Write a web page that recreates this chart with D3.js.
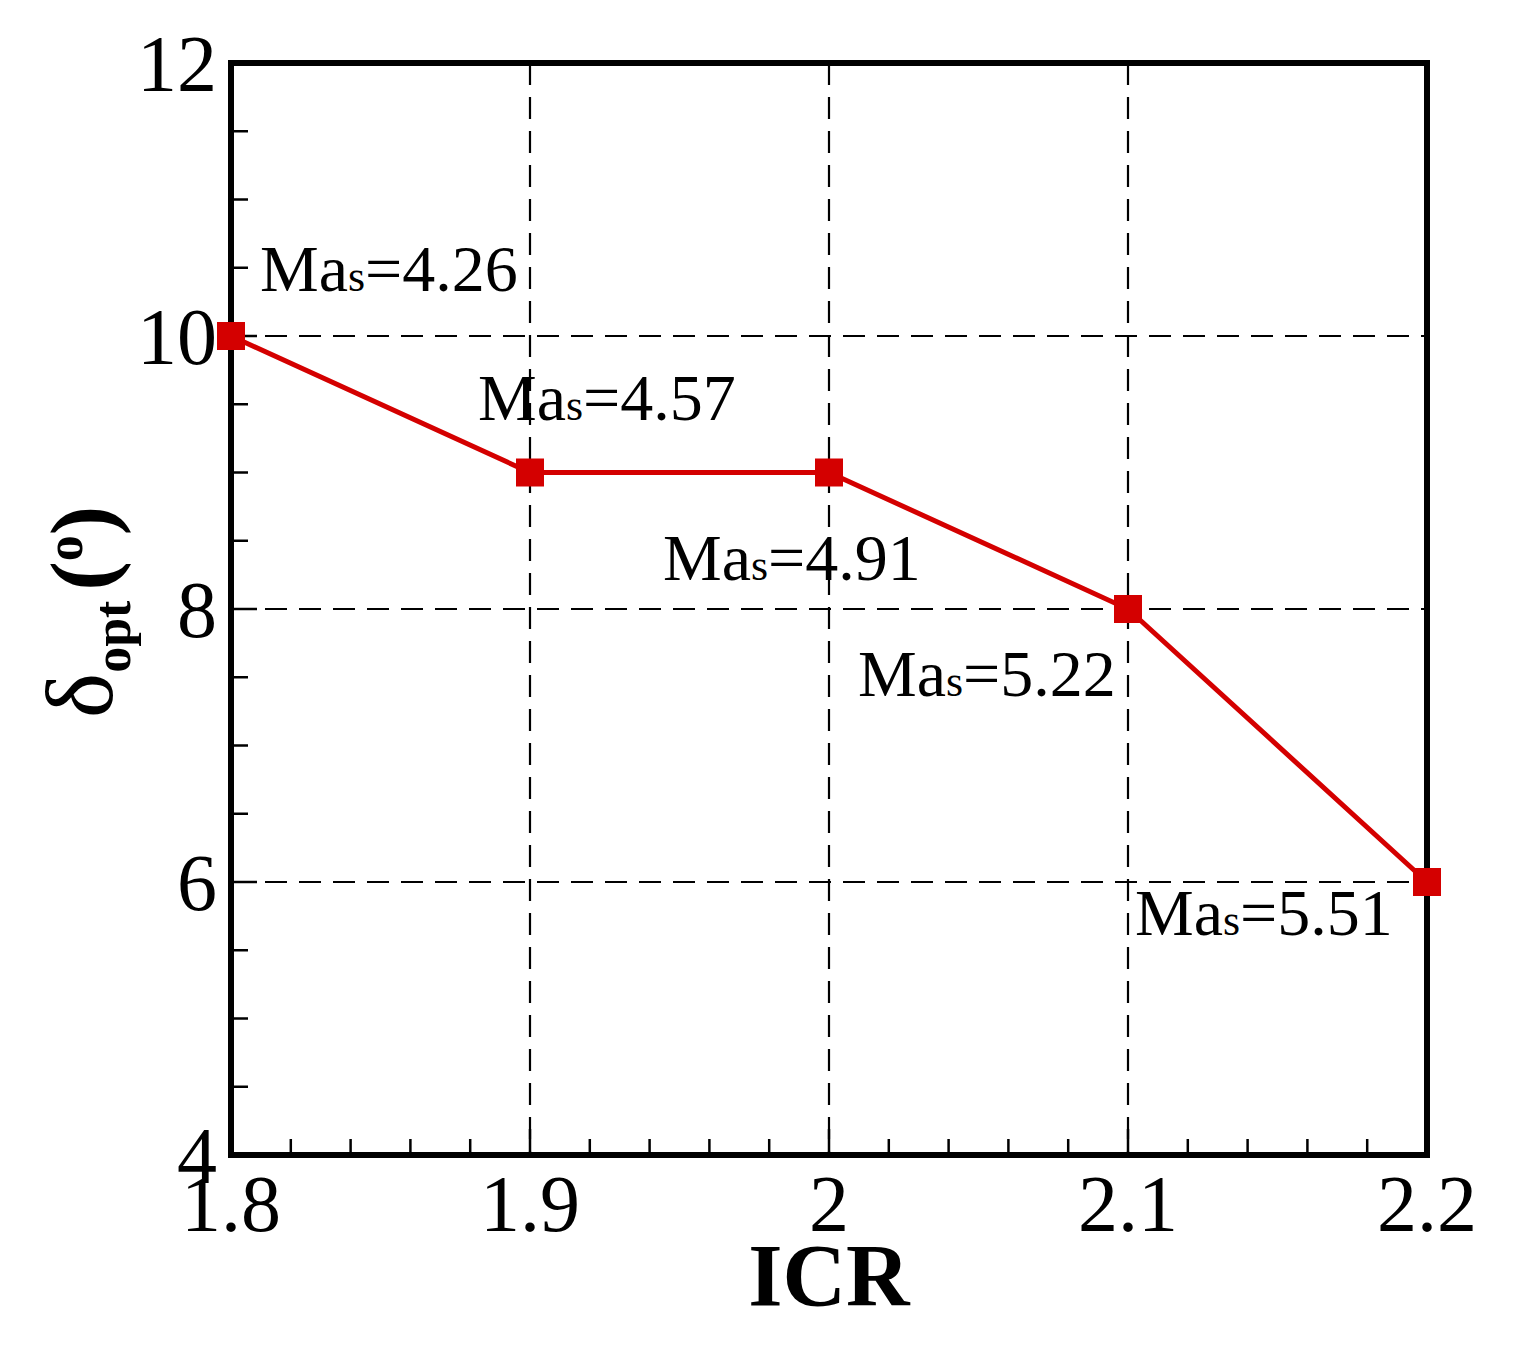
<!DOCTYPE html>
<html><head><meta charset="utf-8">
<script src="https://cdn.jsdelivr.net/npm/d3@7"></script>
<style>body{margin:0;background:#fff}</style>
</head><body>
<svg id="c" width="1522" height="1361"></svg>
<script>
const icr = [1.8, 1.9, 2.0, 2.1, 2.2];
const delta = [10, 9, 9, 8, 6];
const machLabels = ["4.26", "4.57", "4.91", "5.22", "5.51"];
const xTicks = [1.8, 1.9, 2.0, 2.1, 2.2];
const yTicks = [4, 6, 8, 10, 12];

const svg = d3.select("#c");
const L = 231, R = 1427, T = 63, B = 1155;
const x = d3.scaleLinear().domain([1.8, 2.2]).range([L, R]);
const y = d3.scaleLinear().domain([4, 12]).range([B, T]);
const font = "Liberation Serif, Times New Roman, serif";

svg.append("g").selectAll("line").data([1.9, 2.0, 2.1]).join("line")
  .attr("x1", d => x(d)).attr("x2", d => x(d)).attr("y1", T).attr("y2", B)
  .attr("stroke", "#000").attr("stroke-width", 2.2).attr("stroke-dasharray", "22,12");
svg.append("g").selectAll("line").data([6, 8, 10]).join("line")
  .attr("y1", d => y(d)).attr("y2", d => y(d)).attr("x1", L).attr("x2", R)
  .attr("stroke", "#000").attr("stroke-width", 2.2).attr("stroke-dasharray", "22,12");

const xMinor = d3.range(1.8, 2.2001, 0.02);
svg.append("g").selectAll("line").data(xMinor).join("line")
  .attr("x1", d => x(d)).attr("x2", d => x(d))
  .attr("y1", B).attr("y2", (d, i) => i % 5 === 0 ? B - 26 : B - 16)
  .attr("stroke", "#000").attr("stroke-width", 2.5);
const yMinor = d3.range(4, 12.001, 0.5);
svg.append("g").selectAll("line").data(yMinor).join("line")
  .attr("y1", d => y(d)).attr("y2", d => y(d))
  .attr("x1", L).attr("x2", (d, i) => i % 4 === 0 ? L + 26 : L + 17)
  .attr("stroke", "#000").attr("stroke-width", 2.5);

svg.append("rect").attr("x", L).attr("y", T).attr("width", R - L).attr("height", B - T)
  .attr("fill", "none").attr("stroke", "#000").attr("stroke-width", 6);

svg.append("g").selectAll("text").data(xTicks).join("text")
  .attr("x", d => x(d)).attr("y", B + 76).attr("text-anchor", "middle")
  .attr("font-family", font).attr("font-size", 80).text(d => d3.format("")(+d.toFixed(1)));
svg.append("g").selectAll("text").data(yTicks).join("text")
  .attr("x", L - 14).attr("y", d => y(d) + 28).attr("text-anchor", "end")
  .attr("font-family", font).attr("font-size", 80).text(d => d);

svg.append("text").attr("x", 829).attr("y", 1305).attr("text-anchor", "middle")
  .attr("font-family", font).attr("font-size", 88).attr("font-weight", "bold").text("ICR");
const yt = svg.append("text").attr("transform", "translate(112,612) rotate(-90)")
  .attr("text-anchor", "middle").attr("font-family", font).attr("font-size", 88).attr("font-weight", "bold");
yt.append("tspan").attr("font-weight", "normal").attr("font-size", 96).text("δ");
yt.append("tspan").attr("font-size", 52).attr("dy", 18).text("opt");
yt.append("tspan").attr("dy", -18).attr("dx", 10).text("(");
yt.append("tspan").attr("font-size", 52).attr("dy", -30).text("o");
yt.append("tspan").attr("dy", 30).text(")");

svg.append("path").datum(icr.map((d, i) => [d, delta[i]]))
  .attr("d", d3.line().x(d => x(d[0])).y(d => y(d[1])))
  .attr("fill", "none").attr("stroke", "#d40000").attr("stroke-width", 5);
svg.append("g").selectAll("rect").data(icr).join("rect")
  .attr("x", d => x(d) - 14).attr("y", (d, i) => y(delta[i]) - 14)
  .attr("width", 28).attr("height", 28).attr("fill", "#d40000");

const pos = [[260, 291], [478, 420], [663, 580], [858, 696], [1135, 935]];
pos.forEach((p, i) => {
  const t = svg.append("text").attr("x", p[0]).attr("y", p[1])
    .attr("font-family", font).attr("font-size", 66);
  t.append("tspan").text("Ma");
  t.append("tspan").attr("font-size", 44).text("s");
  t.append("tspan").text("=" + machLabels[i]);
});
</script>
</body></html>
